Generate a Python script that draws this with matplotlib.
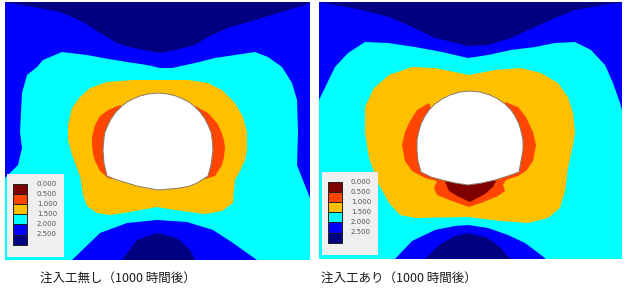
import matplotlib.pyplot as plt
from matplotlib.patches import Polygon, Rectangle

plt.rcParams["font.family"] = ["Noto Sans CJK JP", "DejaVu Sans"]

# contour levels and their colours (legend order, top to bottom)
levels = [0.0, 0.5, 1.0, 1.5, 2.0, 2.5]
level_colors = ["#800000", "#FF4500", "#FFC000", "#00FFFF", "#0000FF", "#000080"]
captions = ["注入工無し（1000 時間後）", "注入工あり（1000 時間後）"]

# zone outlines (pixel coords of the source image)
# --- left panel: no grouting
left_extent = (5, 310, 2, 260)
left_navy_top = [(5, 2), (33, 7), (60, 12), (83, 22), (100, 33), (117, 43), (133, 48),
                 (160, 53), (175, 50), (195, 45), (208, 37), (228, 28), (255, 20),
                 (282, 12), (310, 3), (310, 2)]
left_cyan = [(5, 178), (12, 171), (18, 165), (22, 148), (20, 132), (22, 93), (27, 75),
             (37, 67), (43, 60), (62, 52), (87, 55), (103, 58), (127, 62), (147, 65),
             (160, 68), (172, 68), (195, 63), (215, 58), (235, 55), (255, 52), (268, 57),
             (282, 67), (292, 83), (297, 100), (298, 132), (297, 165), (302, 178),
             (310, 198), (310, 260), (257, 260), (233, 243), (213, 230), (187, 222),
             (157, 220), (127, 223), (100, 233), (72, 260), (5, 260)]
left_navy_bottom = [(122, 260), (137, 240), (157, 233), (177, 238), (190, 250), (195, 260)]
left_orange = [(72, 108), (80, 97), (90, 88), (107, 82), (133, 80), (160, 80), (188, 80),
               (208, 83), (222, 90), (235, 103), (243, 117), (247, 132), (247, 150),
               (245, 160), (240, 171), (235, 180), (234, 190), (233, 203), (222, 211),
               (205, 214), (175, 210), (157, 207), (130, 212), (110, 215), (97, 213),
               (87, 206), (83, 195), (80, 176), (72, 155), (68, 140), (68, 125)]
left_red = [
    [(120, 105), (108, 110), (100, 116), (95, 125), (92, 137), (92, 145), (93, 154),
     (95, 161), (100, 171), (108, 178), (113, 179), (125, 150), (125, 110)],
    [(195, 106), (208, 113), (217, 123), (221, 131), (224, 140), (225, 148), (224, 157),
     (222, 165), (215, 176), (205, 179), (195, 150), (190, 110)],
]
left_dark = []
left_tunnel = [(158, 93), (148, 94), (140, 96), (133, 99), (127, 102), (121, 107),
               (116, 112), (111, 119), (108, 125), (105, 132), (104, 138), (103, 150),
               (104, 163), (107, 176), (117, 180), (127, 183), (137, 186), (147, 188),
               (158, 190), (170, 189), (180, 188), (190, 186), (197, 183), (208, 176),
               (211, 165), (213, 150), (212, 138), (211, 132), (208, 125), (205, 119),
               (200, 112), (195, 107), (189, 102), (183, 99), (176, 96), (168, 94)]
left_legend = (7, 64, 174, 257)

# --- right panel: with grouting
right_extent = (319, 622, 2, 259)
right_navy_top = [(319, 2), (362, 10), (389, 17), (412, 27), (435, 38), (468, 46),
                  (488, 45), (511, 38), (535, 27), (555, 18), (575, 10), (615, 3),
                  (622, 3), (622, 2)]
right_cyan = [(319, 100), (335, 67), (348, 53), (365, 42), (388, 43), (415, 47),
              (442, 52), (468, 58), (488, 55), (511, 50), (535, 47), (555, 43),
              (575, 42), (591, 50), (605, 65), (613, 83), (620, 103), (622, 110),
              (622, 259), (546, 259), (541, 255), (525, 243), (508, 235), (488, 228),
              (468, 225), (455, 226), (435, 230), (412, 241), (395, 259), (319, 259)]
right_navy_bottom = [(425, 259), (439, 245), (455, 236), (468, 233), (488, 238),
                     (501, 248), (510, 259)]
right_orange = [(365, 107), (374, 88), (389, 75), (412, 67), (435, 68), (469, 75),
                (495, 70), (521, 68), (541, 73), (558, 83), (568, 97), (573, 113),
                (575, 132), (573, 145), (568, 168), (565, 191), (560, 208), (548, 218),
                (528, 223), (501, 221), (468, 217), (415, 218), (400, 215), (389, 203),
                (379, 185), (369, 158), (365, 132)]
right_red = [
    [(429, 103), (417, 110), (409, 123), (405, 132), (402, 145), (405, 161), (412, 171),
     (425, 178), (437, 181), (434, 188), (437, 195), (452, 201), (469, 207), (481, 203),
     (498, 196), (505, 191), (503, 185), (506, 180), (518, 176), (526, 171), (533, 161),
     (536, 145), (533, 132), (526, 117), (518, 107), (505, 102), (500, 130),
     (470, 170), (440, 130)],
]
right_dark = [[(445, 182), (449, 191), (459, 197), (470, 202), (485, 194), (493, 187),
               (496, 181), (470, 175)]]
right_tunnel = [(470, 91), (460, 92), (450, 95), (442, 99), (435, 104), (429, 110),
                (425, 116), (421, 124), (419, 131), (417, 140), (417, 150), (418, 161),
                (421, 172), (431, 177), (442, 180), (455, 183), (468, 185), (482, 183),
                (495, 180), (508, 176), (519, 172), (521, 161), (523, 150), (523, 140),
                (521, 131), (519, 124), (515, 116), (511, 110), (505, 104), (498, 99),
                (490, 95), (480, 92)]
right_legend = (322, 378, 172, 255)


def add_poly(ax, pts, color, **kw):
    ax.add_patch(Polygon(pts, closed=True, facecolor=color, edgecolor="none", **kw))


def draw_legend(ax, box):
    x0, x1, y0, y1 = box
    ax.add_patch(Rectangle((x0, y0), x1 - x0, y1 - y0, facecolor="#EFEFEF",
                           edgecolor="none", zorder=10))
    sw_x = x0 + 6
    sw_w = 14
    sw_top = y0 + 9.5
    sw_h = 10.2
    for i, (lev, col) in enumerate(zip(levels, level_colors)):
        y = sw_top + i * sw_h
        ax.add_patch(Rectangle((sw_x, y), sw_w, sw_h, facecolor=col,
                               edgecolor="#202020", lw=0.7, zorder=11))
        ax.text(x1 - 7, y, f"{lev:.3f}", ha="right", va="center", fontsize=5,
                color="#555555", family="DejaVu Sans", zorder=12)


def draw_panel(fig, extent, navy_top, cyan, navy_bottom, orange, reds, darks,
               tunnel, legend_box):
    x0, x1, y0, y1 = extent
    W, H = 625, 290
    ax = fig.add_axes([x0 / W, 1 - y1 / H, (x1 - x0) / W, (y1 - y0) / H])
    ax.set_xlim(x0, x1)
    ax.set_ylim(y1, y0)
    ax.axis("off")
    ax.add_patch(Rectangle((x0, y0), x1 - x0, y1 - y0, facecolor=level_colors[4],
                           edgecolor="none"))
    add_poly(ax, navy_top, level_colors[5])
    add_poly(ax, cyan, level_colors[3])
    add_poly(ax, navy_bottom, level_colors[5])
    add_poly(ax, orange, level_colors[2])
    for r in reds:
        add_poly(ax, r, level_colors[1])
    for d in darks:
        add_poly(ax, d, level_colors[0])
    ax.add_patch(Polygon(tunnel, closed=True, facecolor="white",
                         edgecolor="#8a7a6a", lw=0.7, zorder=5))
    draw_legend(ax, legend_box)
    return ax


if __name__ == "__main__":
    fig = plt.figure(figsize=(6.25, 2.9), dpi=100)
    draw_panel(fig, left_extent, left_navy_top, left_cyan, left_navy_bottom,
               left_orange, left_red, left_dark, left_tunnel, left_legend)
    draw_panel(fig, right_extent, right_navy_top, right_cyan, right_navy_bottom,
               right_orange, right_red, right_dark, right_tunnel, right_legend)
    fig.text(118 / 625, 1 - 278 / 290, captions[0], ha="center", va="center",
             fontsize=9, color="#1a1a1a")
    fig.text(399 / 625, 1 - 278 / 290, captions[1], ha="center", va="center",
             fontsize=9, color="#1a1a1a")
    fig.savefig("out.png", dpi=100)
